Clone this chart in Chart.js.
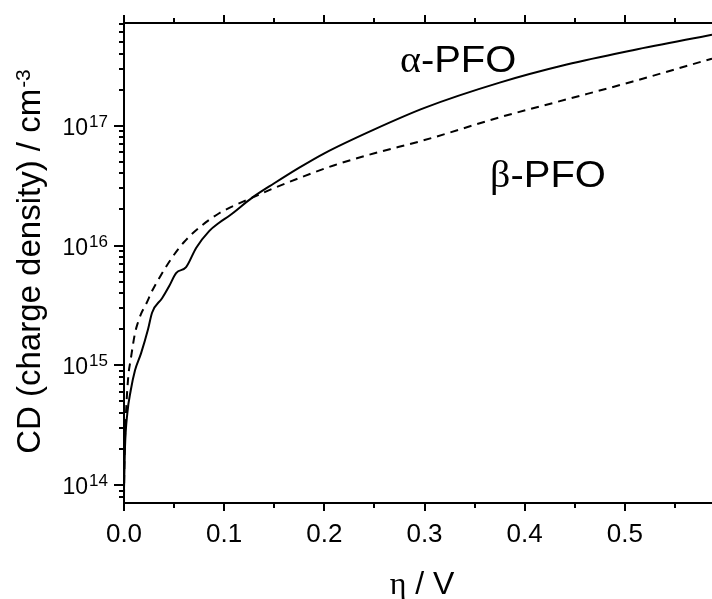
<!DOCTYPE html>
<html>
<head>
<meta charset="utf-8">
<script src="https://cdn.jsdelivr.net/npm/chart.js@4.4.1/dist/chart.umd.min.js"></script>
<style>
  html, body { margin: 0; padding: 0; background: #fff; }
  #wrap { width: 712px; height: 599px; }
</style>
</head>
<body>
<div id="wrap"><canvas id="chart" width="712" height="599"></canvas></div>
<script>
// alpha-PFO (solid) and beta-PFO (dashed)
const alphaX = [0, 0.0005, 0.001, 0.0033, 0.0067, 0.011, 0.017, 0.024, 0.028, 0.038, 0.045, 0.052, 0.062, 0.072, 0.085, 0.095, 0.1055, 0.128, 0.15, 0.175, 0.20, 0.25, 0.30, 0.375, 0.442, 0.508, 0.587];
const alphaY = [9.3e13, 1.41e14, 2.09e14, 3.98e14, 6.17e14, 9.1e14, 1.26e15, 2.0e15, 2.75e15, 3.63e15, 4.57e15, 5.89e15, 6.61e15, 9.55e15, 1.32e16, 1.55e16, 1.78e16, 2.51e16, 3.31e16, 4.47e16, 5.89e16, 9.33e16, 1.41e17, 2.29e17, 3.24e17, 4.27e17, 5.75e17];

const betaX = [0, 0.0003, 0.001, 0.0023, 0.0043, 0.0067, 0.011, 0.014, 0.017, 0.022, 0.028, 0.036, 0.048, 0.060, 0.075, 0.095, 0.128, 0.15, 0.18, 0.21, 0.25, 0.30, 0.375, 0.442, 0.508, 0.587];
const betaY = [7.94e13, 1.41e14, 2.51e14, 4.52e14, 8.13e14, 1.12e15, 1.86e15, 2.29e15, 2.69e15, 3.24e15, 4.17e15, 5.5e15, 7.94e15, 1.07e16, 1.41e16, 1.86e16, 2.51e16, 3.02e16, 3.8e16, 4.68e16, 5.89e16, 7.59e16, 1.175e17, 1.66e17, 2.34e17, 3.63e17];

const xMajor = [0, 0.1, 0.2, 0.3, 0.4, 0.5];
const xMinor = [0.05, 0.15, 0.25, 0.35, 0.45, 0.55];
const yDecades = [14, 15, 16, 17];

const SANS = "'Liberation Sans', Arial, sans-serif";
const SERIF = "'Liberation Serif', 'Times New Roman', serif";

const toPts = (xs, ys) => xs.map((x, i) => ({ x, y: ys[i] }));

// axes frame, ticks, superscript labels and annotations
const framePlugin = {
  id: "frame",
  afterDraw(chart) {
    const { ctx, chartArea: a, scales } = chart;
    const xs = scales.x, ys = scales.y;
    ctx.save();
    ctx.strokeStyle = "#000";
    ctx.fillStyle = "#000";
    ctx.lineWidth = 2;

    ctx.beginPath();
    ctx.moveTo(a.left, a.bottom); ctx.lineTo(a.left, a.top - 1);
    ctx.moveTo(a.left - 1, a.top); ctx.lineTo(a.right, a.top);
    ctx.moveTo(a.left - 1, a.bottom); ctx.lineTo(a.right, a.bottom);
    ctx.stroke();

    // x ticks, bottom and top, pointing out
    ctx.beginPath();
    xMajor.concat(xMinor).forEach(v => {
      const len = xMajor.includes(v) ? 8 : 5;
      const px = Math.round(xs.getPixelForValue(v));
      ctx.moveTo(px, a.bottom); ctx.lineTo(px, a.bottom + len);
      ctx.moveTo(px, a.top); ctx.lineTo(px, a.top - len);
    });
    // y ticks, left, pointing out
    for (let d = 13; d <= 17; d++) {
      for (let m = 1; m <= 9; m++) {
        const v = m * Math.pow(10, d);
        if (v < ys.min || v > ys.max) continue;
        const py = Math.round(ys.getPixelForValue(v));
        const len = m === 1 ? 10 : 5;
        ctx.moveTo(a.left, py); ctx.lineTo(a.left - len, py);
      }
    }
    ctx.stroke();

    // y tick labels 10^n
    ctx.textAlign = "left";
    ctx.textBaseline = "alphabetic";
    yDecades.forEach(d => {
      const py = ys.getPixelForValue(Math.pow(10, d));
      const exp = String(d);
      ctx.font = "17px " + SANS;
      const we = ctx.measureText(exp).width;
      ctx.font = "23px " + SANS;
      const wb = ctx.measureText("10").width;
      const right = a.left - 16;
      ctx.fillText("10", right - we - wb - 1, py + 9);
      ctx.font = "17px " + SANS;
      ctx.fillText(exp, right - we, py + 1);
    });

    // y title
    ctx.save();
    ctx.translate(40, (a.top + a.bottom) / 2 - 1);
    ctx.rotate(-Math.PI / 2);
    const main = "CD (charge density) / cm";
    const sup = "-3";
    ctx.font = "33px " + SANS;
    const wm = ctx.measureText(main).width;
    ctx.font = "21px " + SANS;
    const ws = ctx.measureText(sup).width;
    const sx = -(wm + ws) / 2;
    ctx.font = "33px " + SANS;
    ctx.fillText(main, sx, 0);
    ctx.font = "21px " + SANS;
    ctx.fillText(sup, sx + wm + 1, -10);
    ctx.restore();

    // x title: eta / V
    ctx.font = "32px " + SERIF;
    const wEta = ctx.measureText("\u03b7").width;
    ctx.font = "32px " + SANS;
    const wRest = ctx.measureText(" / V").width;
    const cx = (a.left + a.right) / 2 + 4;
    const tx = cx - (wEta + wRest) / 2;
    ctx.font = "32px " + SERIF;
    ctx.fillText("\u03b7", tx, 594);
    ctx.font = "32px " + SANS;
    ctx.fillText(" / V", tx + wEta, 594);

    // curve annotations
    const note = (greek, text, xv, yv) => {
      const px = xs.getPixelForValue(xv), py = ys.getPixelForValue(yv);
      ctx.save();
      ctx.translate(px, py);
      ctx.scale(1.08, 1);
      ctx.font = "37px " + SERIF;
      const wg = ctx.measureText(greek).width;
      ctx.fillText(greek, 0, 0);
      ctx.font = "37px " + SANS;
      ctx.fillText(text, wg, 0);
      ctx.restore();
    };
    note("\u03b1", "-PFO", 0.2755, 2.8e17);
    note("\u03b2", "-PFO", 0.3655, 3.1e16);

    ctx.restore();
  }
};

new Chart(document.getElementById("chart"), {
  type: "line",
  data: {
    datasets: [
      {
        label: "\u03b1-PFO",
        data: toPts(alphaX, alphaY),
        borderColor: "#000",
        borderWidth: 2,
        pointRadius: 0,
        cubicInterpolationMode: "monotone"
      },
      {
        label: "\u03b2-PFO",
        data: toPts(betaX, betaY),
        borderColor: "#000",
        borderWidth: 2,
        borderDash: [8, 6],
        pointRadius: 0,
        cubicInterpolationMode: "monotone"
      }
    ]
  },
  options: {
    responsive: false,
    animation: false,
    devicePixelRatio: 1,
    layout: { padding: { top: 23, right: 0, left: 0, bottom: 0 } },
    plugins: {
      legend: { display: false },
      tooltip: { enabled: false }
    },
    scales: {
      x: {
        type: "linear",
        position: "bottom",
        min: 0,
        max: 0.587,
        grid: { display: false, tickLength: 8 },
        border: { display: false },
        ticks: {
          stepSize: 0.1,
          includeBounds: false,
          maxRotation: 0,
          padding: 8,
          color: "#000",
          font: { family: SANS, size: 26 },
          callback: v => v.toFixed(1)
        },
        afterFit: s => { s.height = 96; }
      },
      y: {
        type: "logarithmic",
        min: 7.1e13,
        max: 7.2e17,
        grid: { display: false },
        border: { display: false },
        ticks: { display: false },
        afterFit: s => { s.width = 124; }
      }
    }
  },
  plugins: [framePlugin]
});
</script>
</body>
</html>
